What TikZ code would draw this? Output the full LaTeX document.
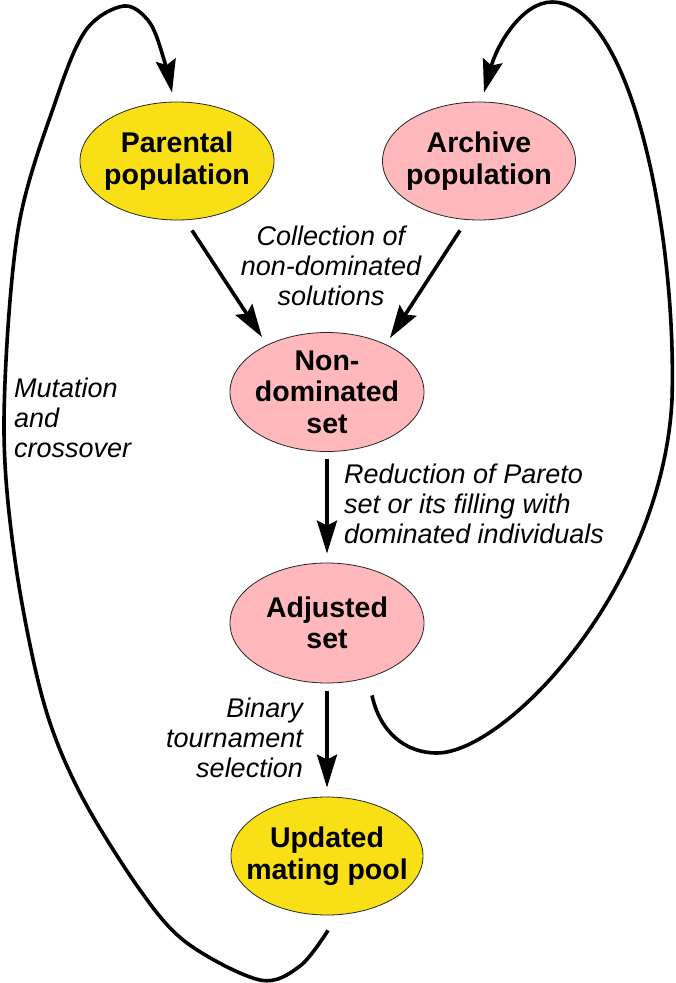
\documentclass[tikz,border=0pt]{standalone}
\usepackage{fontspec}
\setmainfont{Liberation Sans}
\usetikzlibrary{arrows.meta,shapes.geometric}
\definecolor{ylw}{RGB}{249,223,21}
\definecolor{pnk}{RGB}{255,184,188}
\begin{document}
\begin{tikzpicture}[x=1pt,y=-1pt,
  ell/.style={ellipse, draw=black!85, line width=0.8pt, inner sep=0pt},
  btxt/.style={font=\fontsize{28.5}{31.5}\selectfont\bfseries, align=center, inner sep=0pt},
  itxt/.style={font=\fontsize{27}{30}\selectfont\itshape, inner sep=0pt},
  arr/.style={line width=3.6pt, -{Stealth[length=33pt,width=20pt,inset=5pt]}}]
\useasboundingbox (0,0) rectangle (675,983);

\node[ell, fill=ylw, minimum width=194pt, minimum height=118pt] (par) at (177,161) {};
\node[btxt] (part) at (par) {Parental\\population};
\node[ell, fill=pnk, minimum width=193pt, minimum height=118pt] (arc) at (479,161) {};
\node[btxt] (arct) at (arc) {Archive\\population};
\node[ell, fill=pnk, minimum width=194pt, minimum height=119pt] (non) at (327,392) {};
\node[btxt] (nont) at (non) {Non-\\dominated\\set};
\node[ell, fill=pnk, minimum width=194pt, minimum height=120pt] (adj) at (327,623) {};
\node[btxt] (adjt) at (adj) {Adjusted\\set};
\node[ell, fill=ylw, minimum width=192pt, minimum height=118pt] (upd) at (327,856) {};
\node[btxt] (updt) at (upd) {Updated\\mating pool};

\node[itxt, align=center] (lcol) at (331,266) {Collection of\\non-dominated\\solutions};
\node[itxt, align=left, anchor=west] (lred) at (344,504) {Reduction of Pareto\\set or its filling with\\dominated individuals};
\node[itxt, align=right, anchor=east] (lbin) at (303,738) {Binary\\tournament\\selection};
\node[itxt, align=left, anchor=west] (lmut) at (14,418) {Mutation\\and\\crossover};

\draw[arr] ([xshift=15pt,yshift=-10pt]par.south) -- ([xshift=-65pt,yshift=-5pt]non.north);
\draw[arr] ([xshift=-19pt,yshift=-10pt]arc.south) -- ([xshift=63pt,yshift=-6pt]non.north);
\draw[arr] ([yshift=-7pt]non.south) -- ([yshift=9pt]adj.north);
\draw[arr] ([yshift=-8pt]adj.south) -- ([yshift=9pt]upd.north);

\draw[arr] plot[smooth, tension=0.55] coordinates {([xshift=1pt,yshift=-15pt]upd.south) (300,966) (260,980) (187,943) (140,890) (80,793) (43,700) (15,560) (4,420) (18,230) (56,100) (86,30) (124,6) (150,23) (165,63) ([xshift=-5pt,yshift=9pt]par.north)};

\draw[arr] ([xshift=45pt,yshift=-12pt]adj.south) .. controls (380,732) and (405,753) .. (437,753)
  .. controls (505,753) and (662,590) .. (672,400)
  .. controls (677,230) and (630,2) .. (552,2)
  .. controls (522,2) and (497,45) .. ([xshift=5pt,yshift=9pt]arc.north);
\end{tikzpicture}
\end{document}
